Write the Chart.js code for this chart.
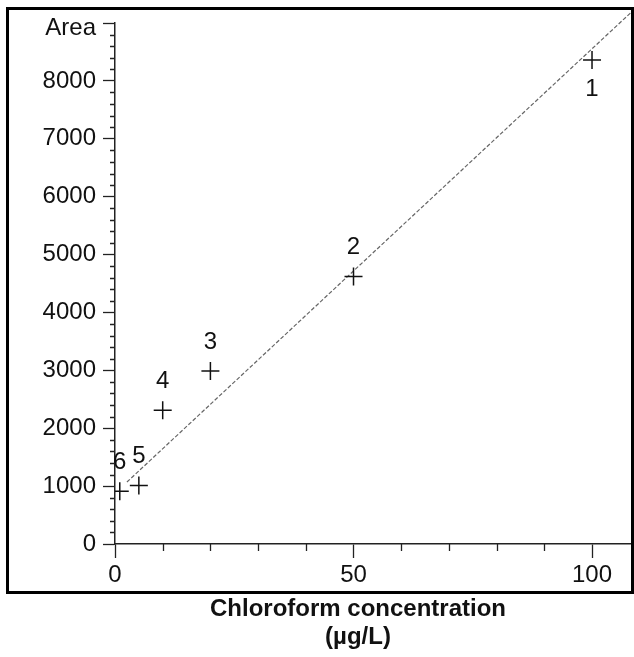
<!DOCTYPE html>
<html>
<head>
<meta charset="utf-8">
<title>Chloroform calibration</title>
<script src="https://cdn.jsdelivr.net/npm/chart.js@4/dist/chart.umd.min.js"></script>
<style>
    html, body { margin: 0; padding: 0; background: #fff; }
    canvas { display: block; }
</style>
</head>
<body>
<canvas id="calib-chart" width="634" height="657"></canvas>
<script>
// Calibration standards: concentration (µg/L) vs peak area
const concentrations = [100, 50, 20, 10, 5, 1];
const areas = [8360, 4620, 2990, 2310, 1010, 910];
const standardLabels = ['1', '2', '3', '4', '5', '6'];

// Fitted calibration line, two end points
const fitX = [2.5, 108.8];
const fitY = [1070, 9230];

// Axis ranges and labelled ticks
const xMax = 108.8;
const yMax = 9000;
const xMajorTicks = [0, 50, 100];
const yMajorTicks = [0, 1000, 2000, 3000, 4000, 5000, 6000, 7000, 8000];
const yTopLabel = 'Area';
const xTitle = ['Chloroform concentration', '(µg/L)'];

const FONT = "'Liberation Sans', Arial, Helvetica, sans-serif";
Chart.defaults.font.family = FONT;
Chart.defaults.color = '#111';

function isMajorX(v) { return xMajorTicks.includes(Math.round(v)); }
function isMajorY(v) { return yMajorTicks.includes(Math.round(v)) || Math.round(v) === yMax; }

/**
 * Number labels next to each standard
 */
const pointLabels = {
    id: 'pointLabels',
    afterDatasetsDraw(chart) {
        const ctx = chart.ctx;
        const meta = chart.getDatasetMeta(0);
        ctx.save();
        ctx.font = '24px ' + FONT;
        ctx.fillStyle = '#111';
        ctx.textAlign = 'center';
        ctx.textBaseline = 'middle';
        meta.data.forEach((pt, i) => {
            // the top standard has its number underneath
            const dy = i === 0 ? 29 : -29;
            ctx.fillText(standardLabels[i], pt.x, pt.y + dy);
        });
        ctx.restore();
    }
};

/**
 * Minor ticks, outer frame, axis names
 */
const decorations = {
    id: 'decorations',
    afterDraw(chart) {
        const ctx = chart.ctx;
        const xs = chart.scales.x;
        const ys = chart.scales.y;
        const area = chart.chartArea;
        ctx.save();
        ctx.strokeStyle = '#222';
        ctx.lineWidth = 1.3;
        ctx.beginPath();
        ys.ticks.forEach(t => {
            if (isMajorY(t.value)) return;
            const y = Math.round(ys.getPixelForValue(t.value)) + 0.5;
            ctx.moveTo(area.left - 5, y);
            ctx.lineTo(area.left, y);
        });
        xs.ticks.forEach(t => {
            if (isMajorX(t.value)) return;
            const x = Math.round(xs.getPixelForValue(t.value)) + 0.5;
            ctx.moveTo(x, area.bottom);
            ctx.lineTo(x, area.bottom + 7);
        });
        ctx.stroke();

        // frame around the whole plot
        ctx.strokeStyle = '#000';
        ctx.lineWidth = 3;
        ctx.strokeRect(7.5, 8.5, chart.width - 9, 584);

        // "Area" sits just under the top tick of the y axis
        ctx.fillStyle = '#111';
        ctx.textAlign = 'right';
        ctx.textBaseline = 'middle';
        ctx.font = '24px ' + FONT;
        ctx.fillText(yTopLabel, area.left - 19, ys.getPixelForValue(yMax) + 5);

        // axis title under the frame
        ctx.textAlign = 'center';
        ctx.font = 'bold 24px ' + FONT;
        ctx.fillText(xTitle[0], 358, 609);
        ctx.fillText(xTitle[1], 358, 637);
        ctx.restore();
    }
};

function initCalibChart() {
    const el = document.getElementById('calib-chart');
    if (!el) return;

    const standards = concentrations.map((c, i) => ({ x: c, y: areas[i] }));
    const fitLine = fitX.map((x, i) => ({ x: x, y: fitY[i] }));

    new Chart(el.getContext('2d'), {
        type: 'scatter',
        data: {
            datasets: [{
                label: 'Standards',
                data: standards,
                pointStyle: 'cross',
                pointRadius: 9,
                pointHoverRadius: 9,
                borderColor: '#111',
                backgroundColor: '#111',
                pointBorderWidth: 1.5,
                showLine: false
            }, {
                label: 'Fit',
                data: fitLine,
                showLine: true,
                pointRadius: 0,
                borderColor: '#666',
                borderWidth: 1.2,
                borderDash: [4, 2],
                clip: false
            }]
        },
        options: {
            responsive: false,
            animation: false,
            layout: {
                autoPadding: false,
                padding: { top: 23, right: 0, bottom: 0, left: 0 }
            },
            plugins: {
                legend: { display: false },
                tooltip: { enabled: false }
            },
            scales: {
                x: {
                    type: 'linear',
                    min: 0,
                    max: xMax,
                    afterFit(scale) { scale.height = 113; },
                    border: { display: true, color: '#222', width: 1.5 },
                    grid: {
                        drawOnChartArea: false,
                        drawTicks: true,
                        tickLength: 14,
                        tickWidth: 1.3,
                        tickColor: ctx => isMajorX(ctx.tick.value) ? '#222' : 'rgba(0,0,0,0)'
                    },
                    ticks: {
                        stepSize: 10,
                        includeBounds: false,
                        autoSkip: false,
                        maxRotation: 0,
                        padding: 3,
                        font: { size: 24 },
                        callback: v => isMajorX(v) ? String(Math.round(v)) : ''
                    }
                },
                y: {
                    type: 'linear',
                    min: 0,
                    max: yMax,
                    afterFit(scale) { scale.width = 115; },
                    border: { display: true, color: '#222', width: 1.5 },
                    grid: {
                        drawOnChartArea: false,
                        drawTicks: true,
                        tickLength: 12,
                        tickWidth: 1.3,
                        tickColor: ctx => isMajorY(ctx.tick.value) ? '#222' : 'rgba(0,0,0,0)'
                    },
                    ticks: {
                        stepSize: 200,
                        autoSkip: false,
                        padding: 7,
                        font: { size: 24 },
                        callback: v => yMajorTicks.includes(Math.round(v)) ? String(Math.round(v)) : ''
                    }
                }
            }
        },
        plugins: [pointLabels, decorations]
    });
}

document.addEventListener('DOMContentLoaded', initCalibChart);
</script>
</body>
</html>
